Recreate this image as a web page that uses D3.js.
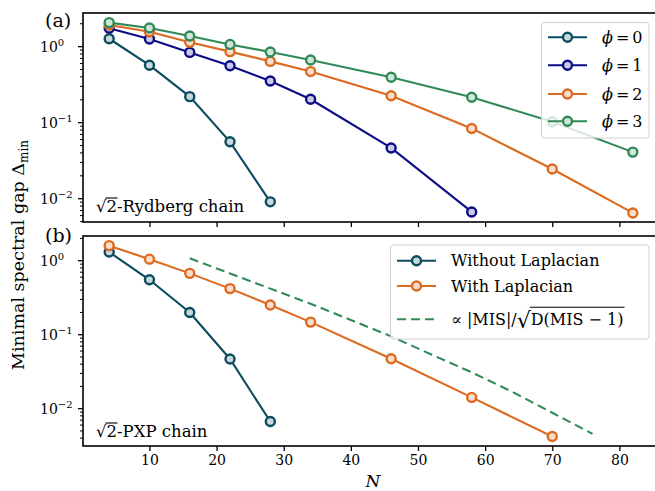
<!DOCTYPE html>
<html><head><meta charset="utf-8">
<script src="https://cdn.jsdelivr.net/npm/d3@7"></script>
<style>body{margin:0;background:#fff}svg{display:block}text{font-family:"DejaVu Serif",serif;fill:#000}</style>
</head><body><svg id="c" width="655" height="491"></svg>
<script>
// ---- data ----
const N_short = [4, 10, 16, 22, 28];
const N_mid = [4, 10, 16, 22, 28, 34, 46, 58];
const N_long = [4, 10, 16, 22, 28, 34, 46, 58, 70, 82];
const phi0 = [1.27, 0.57, 0.22, 0.056, 0.0091];
const phi1 = [1.75, 1.26, 0.84, 0.56, 0.354, 0.203, 0.0465, 0.0067];
const phi2 = [1.93, 1.57, 1.14, 0.86, 0.64, 0.47, 0.226, 0.084, 0.0246, 0.0065];
const phi3 = [2.07, 1.76, 1.38, 1.07, 0.85, 0.668, 0.396, 0.216, 0.103, 0.041];
const N_with = [4, 10, 16, 22, 28, 34, 46, 58, 70];
const withoutLap = [1.31, 0.553, 0.2, 0.047, 0.0067];
const withLap = [1.6, 1.05, 0.675, 0.42, 0.252, 0.148, 0.0474, 0.0142, 0.0042];
const N_dash = [16, 22, 28, 34, 40, 46, 52, 58, 64, 70, 76];
const misScaling = [1.08, 0.673, 0.42, 0.262, 0.158, 0.095, 0.054, 0.031, 0.017, 0.0088, 0.00457];
const xTicks = [10, 20, 30, 40, 50, 60, 70, 80];
const yTickExp = [0, -1, -2];
const phiLabels = ["0", "1", "2", "3"];

const colors = {teal:"#0b4c5e", navy:"#0c0c86", orange:"#dd6a1f", green:"#2f8a58"};
const face = c => d3.interpolateRgb(c, "#fff")(0.78);

const svg = d3.select("#c");
const L = 83, R = 659;
const x = d3.scaleLinear().domain([0.1, 85.9]).range([L, R]);
const yA = d3.scaleLog().domain([0.00494, 2.77]).range([222, 13]);
const yB = d3.scaleLog().domain([0.00313, 2.16]).range([446, 236]);

function panel(y, top, bottom, showX) {
  const g = svg.append("g");
  const xa = d3.axisBottom(x).tickValues(xTicks).tickSize(5).tickPadding(4)
    .tickFormat(showX ? d3.format("d") : "");
  const gx = g.append("g").attr("transform", `translate(0,${bottom})`).call(xa);
  gx.select(".domain").remove();
  gx.selectAll("line").attr("stroke", "#000").attr("stroke-width", 1.3);
  gx.selectAll("text").style("font-size", "14px").attr("fill", "#000");
  const [d0, d1] = y.domain();
  const minors = [];
  for (let e = -4; e <= 1; e++) for (let m = 2; m <= 9; m++) {
    const v = m * Math.pow(10, e);
    if (v >= d0 && v <= d1) minors.push(v);
  }
  g.selectAll(".mn").data(minors).join("line")
    .attr("x1", L - 3).attr("x2", L).attr("y1", d => y(d)).attr("y2", d => y(d))
    .attr("stroke", "#000").attr("stroke-width", 1);
  const majors = yTickExp.map(e => Math.pow(10, e));
  g.selectAll(".mj").data(majors).join("line")
    .attr("x1", L - 5).attr("x2", L).attr("y1", d => y(d)).attr("y2", d => y(d))
    .attr("stroke", "#000").attr("stroke-width", 1.3);
  yTickExp.forEach(e => {
    const t = g.append("text").attr("x", 40).attr("y", y(Math.pow(10, e)) + 5).style("font-size", "14px");
    t.append("tspan").text("10");
    t.append("tspan").attr("dy", -6).style("font-size", "10px").text(e === 0 ? "0" : "\u2212" + (-e));
  });
  g.append("rect").attr("x", L).attr("y", top).attr("width", R - L).attr("height", bottom - top)
    .attr("fill", "none").attr("stroke", "#000").attr("stroke-width", 1.6);
  return g;
}

const gA = panel(yA, 13, 222, false);
const gB = panel(yB, 236, 446, true);

function series(g, y, xs, ys, col, dashed) {
  const line = d3.line().x(d => x(d[0])).y(d => y(d[1]));
  const pts = xs.map((v, i) => [v, ys[i]]);
  g.append("path").attr("d", line(pts)).attr("fill", "none").attr("stroke", col)
    .attr("stroke-width", 2.1).attr("stroke-dasharray", dashed ? "9,5" : null);
  if (!dashed) {
    g.selectAll(null).data(pts).join("circle")
      .attr("cx", d => x(d[0])).attr("cy", d => y(d[1])).attr("r", 4.5)
      .attr("fill", face(col)).attr("stroke", col).attr("stroke-width", 2.4);
  }
}

series(gA, yA, N_short, phi0, colors.teal);
series(gA, yA, N_mid, phi1, colors.navy);
series(gA, yA, N_long, phi2, colors.orange);
series(gA, yA, N_long, phi3, colors.green);

series(gB, yB, N_short, withoutLap, colors.teal);
series(gB, yB, N_with, withLap, colors.orange);
series(gB, yB, N_dash, misScaling, colors.green, true);

// panel labels
svg.append("text").attr("x", 45).attr("y", 27).style("font-size", "19px").text("(a)");
svg.append("text").attr("x", 45).attr("y", 242).style("font-size", "19px").text("(b)");

// sqrt-2 labels
function sqrtLabel(xp, yp, rest) {
  const t = svg.append("text").attr("x", xp).attr("y", yp).style("font-size", "16.5px");
  t.append("tspan").text("\u221A");
  t.append("tspan").text("2");
  t.append("tspan").text(rest);
  const node = t.node();
  const a = node.getSubStringLength(0, 1);
  const b = node.getSubStringLength(1, 1);
  svg.append("line").attr("x1", xp + a - 1).attr("x2", xp + a + b + 0.5)
    .attr("y1", yp - 14).attr("y2", yp - 14).attr("stroke", "#000").attr("stroke-width", 1.1);
}
sqrtLabel(96, 212, "-Rydberg chain");
sqrtLabel(96, 437, "-PXP chain");

// y label
const yl = svg.append("text").attr("transform", "translate(24,255) rotate(-90)")
  .attr("text-anchor", "middle").style("font-size", "17.5px");
yl.append("tspan").text("Minimal spectral gap \u0394");
yl.append("tspan").attr("dy", 4).style("font-size", "12px").text("min");

// x label
svg.append("text").attr("x", 373).attr("y", 487).attr("text-anchor", "middle")
  .style("font-size", "17px").style("font-style", "italic").text("N");

// legends
function legendBox(x0, y0, w, h) {
  svg.append("rect").attr("x", x0).attr("y", y0).attr("width", w).attr("height", h)
    .attr("rx", 3).attr("fill", "#fff").attr("fill-opacity", 0.8)
    .attr("stroke", "#d0d0d0").attr("stroke-width", 1);
}
function legendLine(x1, x2, yy, col, dashed, marker) {
  svg.append("line").attr("x1", x1).attr("x2", x2).attr("y1", yy).attr("y2", yy)
    .attr("stroke", col).attr("stroke-width", 2.1).attr("stroke-dasharray", dashed ? "9,5" : null);
  if (marker) svg.append("circle").attr("cx", (x1 + x2) / 2).attr("cy", yy).attr("r", 4.5)
    .attr("fill", face(col)).attr("stroke", col).attr("stroke-width", 2.4);
}
legendBox(541.5, 22.5, 107.5, 115.5);
const phiCols = [colors.teal, colors.navy, colors.orange, colors.green];
const phiY = [37.3, 65.3, 94, 121.3];
phiCols.forEach((c, i) => {
  legendLine(548, 587, phiY[i], c, false, true);
  const t = svg.append("text").attr("x", 602).attr("y", phiY[i] + 5.5).style("font-size", "16px");
  t.append("tspan").style("font-style", "italic").text("\u03D5");
  t.append("tspan").attr("dx", 3).text("=");
  t.append("tspan").attr("dx", 3).text(phiLabels[i]);
});

legendBox(390.5, 245, 258.5, 94);
const bY = [260.7, 286, 319.3];
legendLine(397, 436, bY[0], colors.teal, false, true);
legendLine(397, 436, bY[1], colors.orange, false, true);
legendLine(397, 436, bY[2], colors.green, true, false);
svg.append("text").attr("x", 451).attr("y", bY[0] + 5.5).style("font-size", "16px").text("Without Laplacian");
svg.append("text").attr("x", 451).attr("y", bY[1] + 5.5).style("font-size", "16px").text("With Laplacian");
(function(){
  const by = bY[2] + 6;
  const t1 = svg.append("text").attr("x", 451).attr("y", by).style("font-size", "16px").text("\u221D |MIS|/");
  let cx = 451 + t1.node().getComputedTextLength();
  const t2 = svg.append("text").attr("x", cx).attr("y", by + 3).style("font-size", "22px").text("\u221A");
  cx += t2.node().getComputedTextLength() - 1;
  const t3 = svg.append("text").attr("x", cx + 1).attr("y", by).style("font-size", "16px").text("D(MIS \u2212 1)");
  const w3 = t3.node().getComputedTextLength();
  svg.append("line").attr("x1", cx).attr("x2", cx + w3 + 2).attr("y1", by - 18).attr("y2", by - 18)
    .attr("stroke", "#000").attr("stroke-width", 1.1);
})();
</script></body></html>
